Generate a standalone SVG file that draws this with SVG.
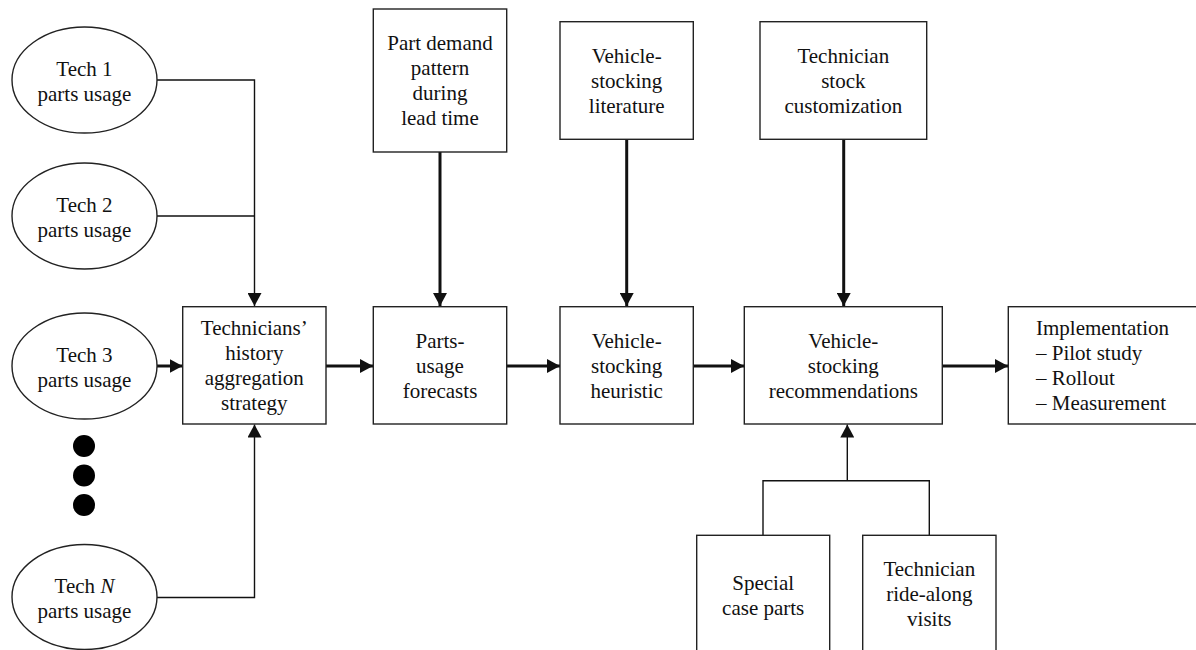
<svg xmlns="http://www.w3.org/2000/svg" width="1196" height="650" viewBox="0 0 1196 650">
<style>
.n{fill:#fff;stroke:#222;stroke-width:1.4}
.t{font-family:"Liberation Serif","Times New Roman",serif;font-size:21px;fill:#111;text-anchor:middle}
.tl{font-family:"Liberation Serif","Times New Roman",serif;font-size:21px;fill:#111;text-anchor:start}
.thin{fill:none;stroke:#111;stroke-width:1.4}
.thick{fill:none;stroke:#111;stroke-width:3}
</style>
<defs>
<marker id="ah" markerUnits="userSpaceOnUse" markerWidth="14" markerHeight="14" refX="13" refY="7" orient="auto" viewBox="0 0 14 14">
<path d="M0,0 L13,7 L0,14 z" fill="#111"/>
</marker>
</defs>
<g id="connectors">
<path class="thin" d="M157,80 H254.5 V306" marker-end="url(#ah)"/>
<path class="thin" d="M157,216 H254.5"/>
<path class="thin" d="M157,597.5 H254.5 V424.5" marker-end="url(#ah)"/>
<path class="thick" d="M157,366 H182.5" marker-end="url(#ah)"/>
<path class="thick" d="M326,366 H373" marker-end="url(#ah)"/>
<path class="thick" d="M506.5,366 H560" marker-end="url(#ah)"/>
<path class="thick" d="M693.5,366 H744" marker-end="url(#ah)"/>
<path class="thick" d="M942.5,366 H1008" marker-end="url(#ah)"/>
<path class="thick" d="M440,152 V306" marker-end="url(#ah)"/>
<path class="thick" d="M626.7,139.5 V306" marker-end="url(#ah)"/>
<path class="thick" d="M843.7,139.5 V306" marker-end="url(#ah)"/>
<path class="thin" d="M763,535.3 V480.7 H929.3 V535.3"/>
<path class="thin" d="M847.3,480.7 V424.5" marker-end="url(#ah)"/>
</g>
<g id="tech1">
<ellipse class="n" cx="84.5" cy="80" rx="72.5" ry="53"/>
<text class="t" x="84.5" y="76">Tech 1</text>
<text class="t" x="84.5" y="101">parts usage</text>
</g>
<g id="tech2">
<ellipse class="n" cx="84.5" cy="216" rx="72.5" ry="53"/>
<text class="t" x="84.5" y="212">Tech 2</text>
<text class="t" x="84.5" y="237">parts usage</text>
</g>
<g id="tech3">
<ellipse class="n" cx="84.5" cy="366" rx="72.5" ry="53"/>
<text class="t" x="84.5" y="362">Tech 3</text>
<text class="t" x="84.5" y="387">parts usage</text>
</g>
<g id="dots">
<circle cx="84" cy="446" r="11" fill="#000"/>
<circle cx="84" cy="475.5" r="11" fill="#000"/>
<circle cx="84" cy="505" r="11" fill="#000"/>
</g>
<g id="techN">
<ellipse class="n" cx="84.5" cy="597" rx="72.5" ry="52.5"/>
<text class="t" x="84.5" y="593">Tech <tspan font-style="italic">N</tspan></text>
<text class="t" x="84.5" y="618">parts usage</text>
</g>
<g id="aggregation">
<rect class="n" x="182.7" y="306.7" width="143.3" height="117.3"/>
<text class="t" x="254.3" y="335">Technicians’</text>
<text class="t" x="254.3" y="360">history</text>
<text class="t" x="254.3" y="385">aggregation</text>
<text class="t" x="254.3" y="410">strategy</text>
</g>
<g id="demand">
<rect class="n" x="373.3" y="9" width="133.4" height="143"/>
<text class="t" x="440" y="50">Part demand</text>
<text class="t" x="440" y="75">pattern</text>
<text class="t" x="440" y="100">during</text>
<text class="t" x="440" y="125">lead time</text>
</g>
<g id="forecasts">
<rect class="n" x="373.3" y="306.7" width="133.4" height="117.3"/>
<text class="t" x="440" y="348">Parts-</text>
<text class="t" x="440" y="373">usage</text>
<text class="t" x="440" y="398">forecasts</text>
</g>
<g id="literature">
<rect class="n" x="560" y="21.7" width="133.3" height="117.6"/>
<text class="t" x="626.7" y="63">Vehicle-</text>
<text class="t" x="626.7" y="88">stocking</text>
<text class="t" x="626.7" y="113">literature</text>
</g>
<g id="heuristic">
<rect class="n" x="560" y="306.7" width="133.3" height="117.3"/>
<text class="t" x="626.7" y="348">Vehicle-</text>
<text class="t" x="626.7" y="373">stocking</text>
<text class="t" x="626.7" y="398">heuristic</text>
</g>
<g id="customization">
<rect class="n" x="760" y="21.7" width="166.7" height="117.6"/>
<text class="t" x="843.3" y="63">Technician</text>
<text class="t" x="843.3" y="88">stock</text>
<text class="t" x="843.3" y="113">customization</text>
</g>
<g id="recommendations">
<rect class="n" x="744.3" y="306.7" width="198" height="117.3"/>
<text class="t" x="843.3" y="348">Vehicle-</text>
<text class="t" x="843.3" y="373">stocking</text>
<text class="t" x="843.3" y="398">recommendations</text>
</g>
<g id="implementation">
<rect class="n" x="1008.3" y="306.7" width="200" height="117.3"/>
<text class="tl" x="1036" y="335">Implementation</text>
<text class="tl" x="1036" y="360">– Pilot study</text>
<text class="tl" x="1036" y="385">– Rollout</text>
<text class="tl" x="1036" y="410">– Measurement</text>
</g>
<g id="special">
<rect class="n" x="696.7" y="535.3" width="133" height="130"/>
<text class="t" x="763.2" y="590">Special</text>
<text class="t" x="763.2" y="615">case parts</text>
</g>
<g id="rideAlong">
<rect class="n" x="862.7" y="535.3" width="133.3" height="130"/>
<text class="t" x="929.3" y="576">Technician</text>
<text class="t" x="929.3" y="601">ride-along</text>
<text class="t" x="929.3" y="626">visits</text>
</g>
</svg>
